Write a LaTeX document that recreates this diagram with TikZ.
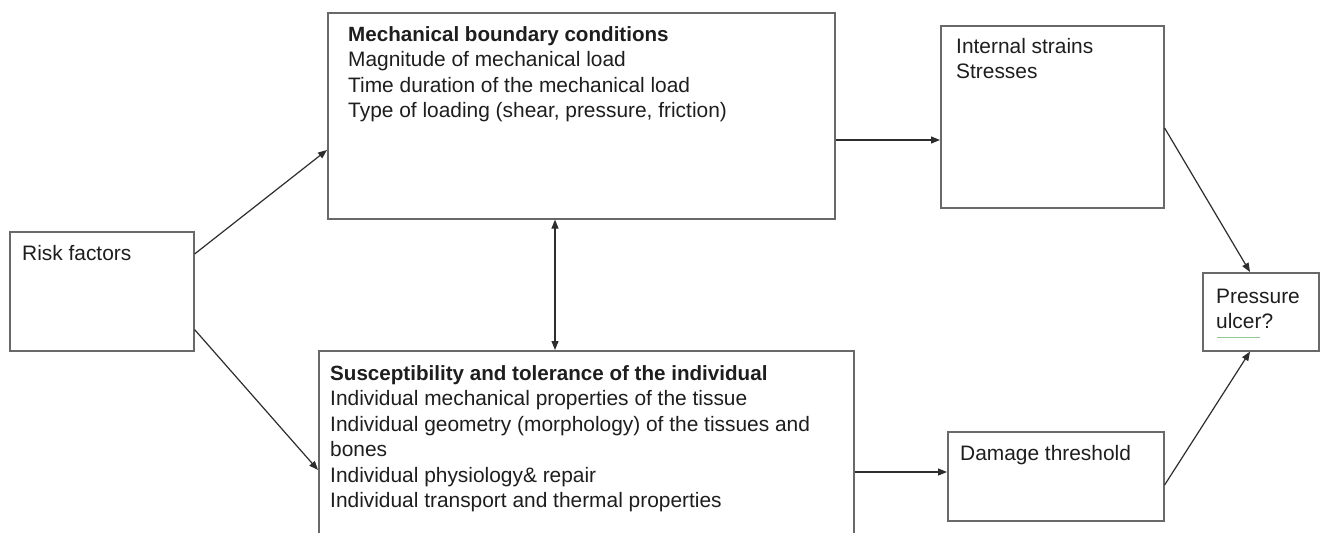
\documentclass[tikz,border=0pt]{standalone}
\usepackage{fontspec}
\setmainfont{Liberation Sans}
\usetikzlibrary{arrows.meta}
\definecolor{boxline}{RGB}{105,105,105}
\definecolor{arrowline}{RGB}{45,45,45}
\definecolor{txtcol}{RGB}{30,30,30}
\definecolor{spellgreen}{RGB}{150,200,150}
\newcommand\boxlines[1]{\begin{tabular}[t]{@{}l@{}}#1\end{tabular}}
\tikzset{
  boxnode/.style={draw=boxline, line width=1.6pt, fill=white, inner sep=0pt, anchor=north west},
  txt/.style={inner sep=0pt, anchor=base west, text=txtcol, font=\fontsize{20.9}{25.5}\selectfont},
  conn/.style={draw=arrowline, line width=1.2pt, -{Triangle[length=9pt,width=7pt]}},
  dconn/.style={draw=arrowline, line width=1.2pt, {Triangle[length=9pt,width=7pt]}-{Triangle[length=9pt,width=7pt]}}
}
\begin{document}
\begin{tikzpicture}[x=1pt,y=-1pt]
\clip (0,0) rectangle (1326,533);
\fill[white] (0,0) rectangle (1326,533);
% boxes
\node[boxnode, minimum width=184pt, minimum height=119pt] (risk) at (9,231) {};
\node[boxnode, minimum width=507pt, minimum height=206pt] (mech) at (327,12) {};
\node[boxnode, minimum width=223pt, minimum height=182pt] (strain) at (940,25) {};
\node[boxnode, minimum width=116pt, minimum height=78pt] (ulcer) at (1202,272) {};
\node[boxnode, minimum width=535pt, minimum height=200pt] (susc) at (318,350) {};
\node[boxnode, minimum width=216pt, minimum height=89pt] (damage) at (947,431) {};
% texts
\node[txt] (risktxt) at (22,260) {Risk factors};
\node[txt] (mechtxt) at (348,41) {\boxlines{{\fontsize{20.6}{25.5}\selectfont\bfseries Mechanical boundary conditions}\\
Magnitude of mechanical load\\
Time duration of the mechanical load\\
Type of loading (shear, pressure, friction)}};
\node[txt] (straintxt) at (956,53) {\boxlines{Internal strains\\ Stresses}};
\node[txt] (ulcertxt) at (1216,303) {\boxlines{Pressure\\ ulcer?}};
\node[txt] (susctxt) at (330,380) {\boxlines{{\fontsize{20.6}{25.5}\selectfont\bfseries Susceptibility and tolerance of the individual}\\
Individual mechanical properties of the tissue\\
Individual geometry (morphology) of the tissues and\\
bones\\
Individual physiology\& repair\\
Individual transport and thermal properties}};
\node[txt] (damagetxt) at (960,460) {Damage threshold};
% spell-check underline
\draw[spellgreen, line width=0.8pt] ([xshift=1pt,yshift=-4pt]ulcertxt.base west) ++(0,30) -- ++(43,0);
% connectors
\draw[conn] ([yshift=-23pt]risk.north east) -- ([yshift=-138pt]mech.north west);
\draw[conn] ([yshift=22pt]risk.south east) -- ([yshift=-120pt]susc.north west);
\draw[dconn] (mech.south -| 555,0) -- (susc.north -| 555,0);
\draw[conn] ([yshift=-128pt]mech.north east) -- ([yshift=-115pt]strain.north west);
\draw[conn] ([yshift=-103pt]strain.north east) -- ([xshift=48pt]ulcer.north west);
\draw[conn] ([yshift=-122pt]susc.north east) -- ([yshift=-41pt]damage.north west);
\draw[conn] ([yshift=-54pt]damage.north east) -- ([xshift=48pt]ulcer.south west);
\end{tikzpicture}
\end{document}
